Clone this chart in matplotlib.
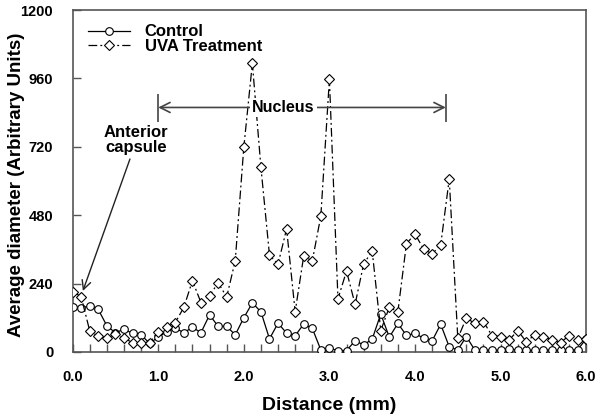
import matplotlib
matplotlib.use("Agg")
import matplotlib.pyplot as plt

plt.rcParams['font.family'] = ['Liberation Sans', 'DejaVu Sans']
plt.rcParams['font.weight'] = 'bold'

# distance along the lens (mm)
distance = [0.0, 0.1, 0.2, 0.3, 0.4, 0.5, 0.6, 0.7, 0.8, 0.9,
            1.0, 1.1, 1.2, 1.3, 1.4, 1.5, 1.6, 1.7, 1.8, 1.9,
            2.0, 2.1, 2.2, 2.3, 2.4, 2.5, 2.6, 2.7, 2.8, 2.9,
            3.0, 3.1, 3.2, 3.3, 3.4, 3.5, 3.6, 3.7, 3.8, 3.9,
            4.0, 4.1, 4.2, 4.3, 4.4, 4.5, 4.6, 4.7, 4.8, 4.9,
            5.0, 5.1, 5.2, 5.3, 5.4, 5.5, 5.6, 5.7, 5.8, 5.9, 6.0]

control = [157, 155, 161, 149, 92, 67, 80, 65, 60, 30,
           52, 71, 83, 68, 86, 68, 130, 90, 90, 60,
           120, 172, 141, 46, 101, 66, 57, 98, 83, 7,
           13, 5, 5, 39, 25, 45, 133, 52, 100, 58,
           65, 48, 39, 97, 18, 7, 54, 6, 6, 6,
           6, 12, 6, 6, 6, 8, 6, 6, 6, 8, 46]

uva = [212, 194, 74, 55, 48, 63, 48, 33, 30, 33,
       71, 89, 103, 157, 250, 173, 197, 243, 193, 320,
       718, 1013, 648, 340, 308, 432, 141, 337, 319, 477,
       957, 186, 284, 167, 309, 354, 75, 157, 141, 380,
       414, 361, 344, 375, 607, 48, 119, 100, 106, 57,
       54, 42, 75, 36, 60, 54, 42, 33, 57, 42, 46]

y_ticks = [0, 240, 480, 720, 960, 1200]
x_ticks = [0, 1, 2, 3, 4, 5, 6]

fig = plt.figure(figsize=(6, 4.17), dpi=100)
ax = fig.add_axes([0.121, 0.156, 0.856, 0.820])

ax.plot(distance, control, '-', color='black', lw=0.9, marker='o', ms=5.5,
        mfc='white', mec='black', mew=0.8, label='Control', zorder=3)
ax.plot(distance, uva, color='black', lw=0.9, dashes=(7, 2.5, 1.5, 2.5),
        marker='D', ms=5, mfc='white', mec='black', mew=0.8,
        label='UVA Treatment', zorder=3)

ax.set_xlim(0, 6)
ax.set_ylim(0, 1200)
ax.set_xticks(x_ticks)
ax.set_xticklabels(['%.1f' % t for t in x_ticks])
ax.set_xticks([t / 5 for t in range(31)], minor=True)
ax.set_yticks(y_ticks)

spine_col = '#555555'
for s in ax.spines.values():
    s.set_color(spine_col)
    s.set_linewidth(1.2)
ax.tick_params(which='both', direction='in', color=spine_col, width=1.0,
               length=6, labelsize=10.5, pad=14)
ax.tick_params(axis='x', pad=13)

ax.set_xlabel('Distance (mm)', fontsize=14, fontweight='bold', labelpad=9)
ax.set_ylabel('Average diameter (Arbitrary Units)', fontsize=13.5,
              fontweight='bold')
ax.yaxis.set_label_coords(-0.093, 0.49)

ax.legend(loc='upper left', bbox_to_anchor=(0.03, 0.958), frameon=False,
          fontsize=12, handlelength=2.5, handletextpad=0.9,
          labelspacing=-0.04, borderpad=0, borderaxespad=0)

# Nucleus range marker
ax.annotate('', xy=(1.0, 858), xytext=(4.36, 858),
            arrowprops=dict(arrowstyle='<->', color='#444444', lw=1.2,
                            mutation_scale=18, shrinkA=0, shrinkB=0))
ax.vlines([1.0, 4.36], 807, 905, color='#444444', lw=1.2)
ax.text(2.46, 858, 'Nucleus', ha='center', va='center', fontsize=11.5,
        fontweight='bold',
        bbox=dict(boxstyle='square,pad=0.15', fc='white', ec='none'))

# anterior capsule pointer
ax.text(0.74, 744, 'Anterior\ncapsule', ha='center', va='center',
        fontsize=12, fontweight='bold', linespacing=1.0)
ax.annotate('', xy=(0.12, 214), xytext=(0.67, 677),
            arrowprops=dict(arrowstyle='->', color='#222222', lw=1.0,
                            mutation_scale=16, shrinkA=0, shrinkB=0))

fig.savefig('out.png', dpi=100)
